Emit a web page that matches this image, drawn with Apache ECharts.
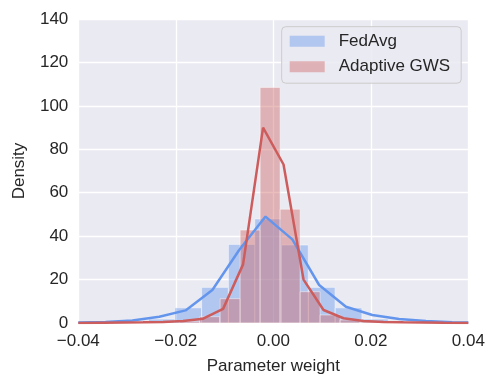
<!DOCTYPE html>
<html>
<head>
<meta charset="utf-8">
<script src="https://cdn.jsdelivr.net/npm/echarts@6/dist/echarts.min.js"></script>
<style>
  html, body { margin: 0; padding: 0; background: #fff; }
  #chart { width: 499px; height: 388px; }
</style>
</head>
<body>
<div id="chart"></div>
<script>
// histogram bins (left edge) and densities
const fedAvgBinLeft = [-0.0311, -0.0256, -0.0202, -0.0147, -0.0092, -0.0038, 0.0017, 0.0072, 0.0127, 0.0181, 0.0236];
const fedAvgBinWidth = 0.00547;
const fedAvgDensity = [0.5, 1.8, 7.0, 16.4, 36.2, 47.9, 35.9, 16.4, 7.0, 1.8, 0.5];

const gwsBinLeft = [-0.0192, -0.0151, -0.0109, -0.0068, -0.0027, 0.0014, 0.0055, 0.0096, 0.0137, 0.0178];
const gwsBinWidth = 0.0041;
const gwsDensity = [0.8, 2.9, 11.2, 42.8, 108.5, 52.4, 14.4, 3.7, 1.4, 0.5];

// density curves
const fedAvgCurveX = [-0.04, -0.0344, -0.0289, -0.0234, -0.018, -0.0125, -0.007, -0.0016, 0.0039, 0.0094, 0.0149, 0.0203, 0.0258, 0.0313, 0.0367, 0.04];
const fedAvgCurveY = [0.2, 0.5, 1.2, 2.9, 5.8, 15.2, 33.6, 49, 38.5, 17.5, 7.5, 3.7, 1.8, 0.9, 0.4, 0.2];

const gwsCurveX = [-0.04, -0.039, -0.0349, -0.0308, -0.0267, -0.0226, -0.0185, -0.0144, -0.0103, -0.0062, -0.0021, 0.0021, 0.0062, 0.0103, 0.0144, 0.0185, 0.0226, 0.0267, 0.0308, 0.0349, 0.039, 0.04];
const gwsCurveY = [0, 0, 0.1, 0.2, 0.3, 0.5, 0.9, 2.0, 6.5, 27, 90, 73, 20, 6, 2.2, 0.9, 0.5, 0.3, 0.2, 0.1, 0.05, 0];

const xTicks = { min: -0.04, max: 0.04, step: 0.02 };
const yTicks = { min: 0, max: 140, step: 20 };

const FONT = 'Liberation Sans, Arial, Helvetica, sans-serif';
const BLUE = '#6495ed';
const RED = '#cd5c5c';
const BLUE_FILL = 'rgba(100,149,237,0.42)';
const RED_FILL = 'rgba(205,92,92,0.4)';

function binData(left, width, heights) {
  return left.map((x, i) => [x, x + width, heights[i]]);
}

function renderBin(fill) {
  return function (params, api) {
    const top = api.coord([api.value(0), api.value(2)]);
    const bottom = api.coord([api.value(1), 0]);
    return {
      type: 'rect',
      shape: { x: top[0], y: top[1], width: bottom[0] - top[0], height: bottom[1] - top[1] },
      style: { fill: fill, stroke: 'rgba(255,255,255,0.45)', lineWidth: 1 }
    };
  };
}

const minus = v => v.replace('-', '\u2212');

const chart = echarts.init(document.getElementById('chart'), null, { renderer: 'canvas' });
chart.setOption({
  animation: false,
  backgroundColor: '#ffffff',
  textStyle: { fontFamily: FONT },
  grid: { left: 78.3, right: 30.7, top: 19, bottom: 65, backgroundColor: '#eaeaf2', show: true, borderWidth: 0 },
  legend: {
    orient: 'vertical',
    left: 281.7,
    top: 26.7,
    padding: [6, 11, 8, 8],
    itemGap: 8.5,
    itemWidth: 35,
    itemHeight: 11,
    backgroundColor: 'rgba(234,234,242,0.85)',
    borderColor: '#cccccc',
    borderWidth: 1,
    borderRadius: 4,
    textStyle: { fontFamily: FONT, fontSize: 17, color: '#262626', padding: [0, 0, 0, 9] },
    data: [
      { name: 'FedAvg', icon: 'rect', itemStyle: { color: BLUE_FILL } },
      { name: 'Adaptive GWS', icon: 'rect', itemStyle: { color: RED_FILL } }
    ]
  },
  xAxis: {
    type: 'value',
    min: xTicks.min,
    max: xTicks.max,
    interval: xTicks.step,
    name: 'Parameter weight',
    nameLocation: 'middle',
    nameGap: 35,
    nameTextStyle: { fontFamily: FONT, fontSize: 17, color: '#262626' },
    axisLine: { show: false },
    axisTick: { show: false },
    axisLabel: { fontFamily: FONT, fontSize: 17, color: '#262626', margin: 10, formatter: v => minus(v.toFixed(2)) },
    splitLine: { show: true, lineStyle: { color: '#ffffff', width: 1.3 } }
  },
  yAxis: {
    type: 'value',
    min: yTicks.min,
    max: yTicks.max,
    interval: yTicks.step,
    name: 'Density',
    nameLocation: 'middle',
    nameGap: 50,
    nameTextStyle: { fontFamily: FONT, fontSize: 17, color: '#262626' },
    axisLine: { show: false },
    axisTick: { show: false },
    axisLabel: { fontFamily: FONT, fontSize: 17, color: '#262626', margin: 10 },
    splitLine: { show: true, lineStyle: { color: '#ffffff', width: 1.3 } }
  },
  series: [
    {
      name: 'FedAvg',
      type: 'custom',
      renderItem: renderBin(BLUE_FILL),
      encode: { x: [0, 1], y: 2 },
      itemStyle: { color: BLUE_FILL },
      data: binData(fedAvgBinLeft, fedAvgBinWidth, fedAvgDensity),
      z: 2
    },
    {
      name: 'Adaptive GWS',
      type: 'custom',
      renderItem: renderBin(RED_FILL),
      encode: { x: [0, 1], y: 2 },
      itemStyle: { color: RED_FILL },
      data: binData(gwsBinLeft, gwsBinWidth, gwsDensity),
      z: 3
    },
    {
      name: 'FedAvg curve',
      type: 'line',
      showSymbol: false,
      data: fedAvgCurveX.map((x, i) => [x, fedAvgCurveY[i]]),
      lineStyle: { color: BLUE, width: 2.5 },
      itemStyle: { color: BLUE },
      z: 4
    },
    {
      name: 'GWS curve',
      type: 'line',
      showSymbol: false,
      data: gwsCurveX.map((x, i) => [x, gwsCurveY[i]]),
      lineStyle: { color: RED, width: 2.5 },
      itemStyle: { color: RED },
      z: 5
    }
  ]
});
</script>
</body>
</html>
